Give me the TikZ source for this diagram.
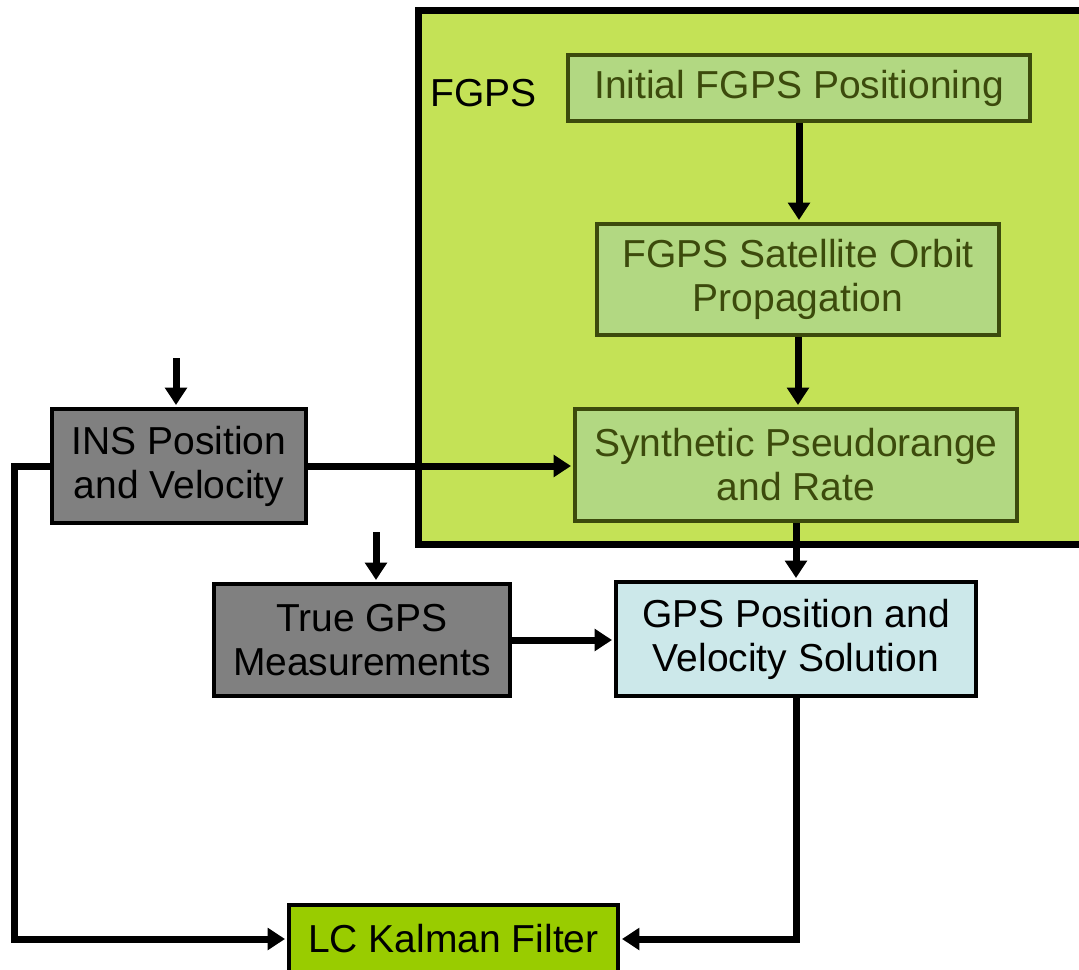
\documentclass[tikz,border=0pt]{standalone}
\usepackage{fontspec}
\setmainfont{Liberation Sans}
\usetikzlibrary{arrows.meta,calc}

\definecolor{fgpsfill}{RGB}{196,226,86}
\definecolor{innerfill}{RGB}{178,216,130}
\definecolor{olive}{RGB}{60,74,12}
\definecolor{insgray}{RGB}{128,128,128}
\definecolor{solfill}{RGB}{204,232,234}
\definecolor{kalfill}{RGB}{153,204,0}

\tikzset{
  lbl/.style={font=\fontsize{29.25}{33}\selectfont, align=center, inner sep=0pt},
  blockbox/.style={lbl, rectangle, draw=black, line width=3pt},
  fgpsbox/.style={lbl, rectangle, draw=olive, fill=innerfill, text=olive, line width=3pt},
  arr/.style={line width=5.25pt, -{Triangle[width=16pt,length=13pt]}, shorten >=1.5pt},
  wire/.style={line width=5.25pt},
}

\begin{document}
\begin{tikzpicture}[x=0.75pt,y=-0.75pt]
  \useasboundingbox (0,0) rectangle (1079,970);
  \clip (0,0) rectangle (1079,970);

  % FGPS container
  \draw[line width=5.25pt, fill=fgpsfill] (418,11) rectangle (1100,544);
  \node[lbl, anchor=base west] (fgpslabel) at (430,107) {FGPS};

  % FGPS stages
  \node[fgpsbox, minimum width=462*0.75pt, minimum height=66*0.75pt] (init) at (799,88) {Initial FGPS Positioning};
  \node[fgpsbox, minimum width=402*0.75pt, minimum height=111*0.75pt] (orbit) at (798,279.5) {FGPS Satellite Orbit\\Propagation};
  \node[fgpsbox, minimum width=442*0.75pt, minimum height=112*0.75pt] (synth) at (796,465) {Synthetic Pseudorange\\and Rate};

  % Outer blocks
  \node[blockbox, fill=insgray, minimum width=254*0.75pt, minimum height=114*0.75pt] (ins) at (179,466) {INS Position\\and Velocity};
  \node[blockbox, fill=insgray, minimum width=296*0.75pt, minimum height=112*0.75pt] (truegps) at (362,640) {True GPS\\Measurements};
  \node[blockbox, fill=solfill, minimum width=360*0.75pt, minimum height=114*0.75pt] (gpssol) at (796,639) {GPS Position and\\Velocity Solution};
  \node[blockbox, fill=kalfill, minimum width=329*0.75pt, minimum height=68*0.75pt] (kalman) at (453.5,939) {LC Kalman Filter};

  % External inputs and routing points
  \coordinate (insin) at (176,358);
  \coordinate (truein) at (376,532);
  \coordinate (leftdown) at (14,939);

  % Connectors
  \draw[arr] (insin) -- (insin |- ins.north);
  \draw[arr] (truein) -- (truein |- truegps.north);
  \draw[arr] (init.south) -- (init.south |- orbit.north);
  \draw[arr] (orbit.south) -- (orbit.south |- synth.north);
  \draw[arr] (synth.south) -- (synth.south |- gpssol.north);
  \draw[arr] (ins.east) -- (ins.east -| synth.west);
  \draw[arr] (truegps.east) -- (truegps.east -| gpssol.west);
  \draw[arr] (ins.west) -| (leftdown) -- (kalman.west);
  \draw[arr] (gpssol.south) |- (kalman.east);
\end{tikzpicture}
\end{document}
